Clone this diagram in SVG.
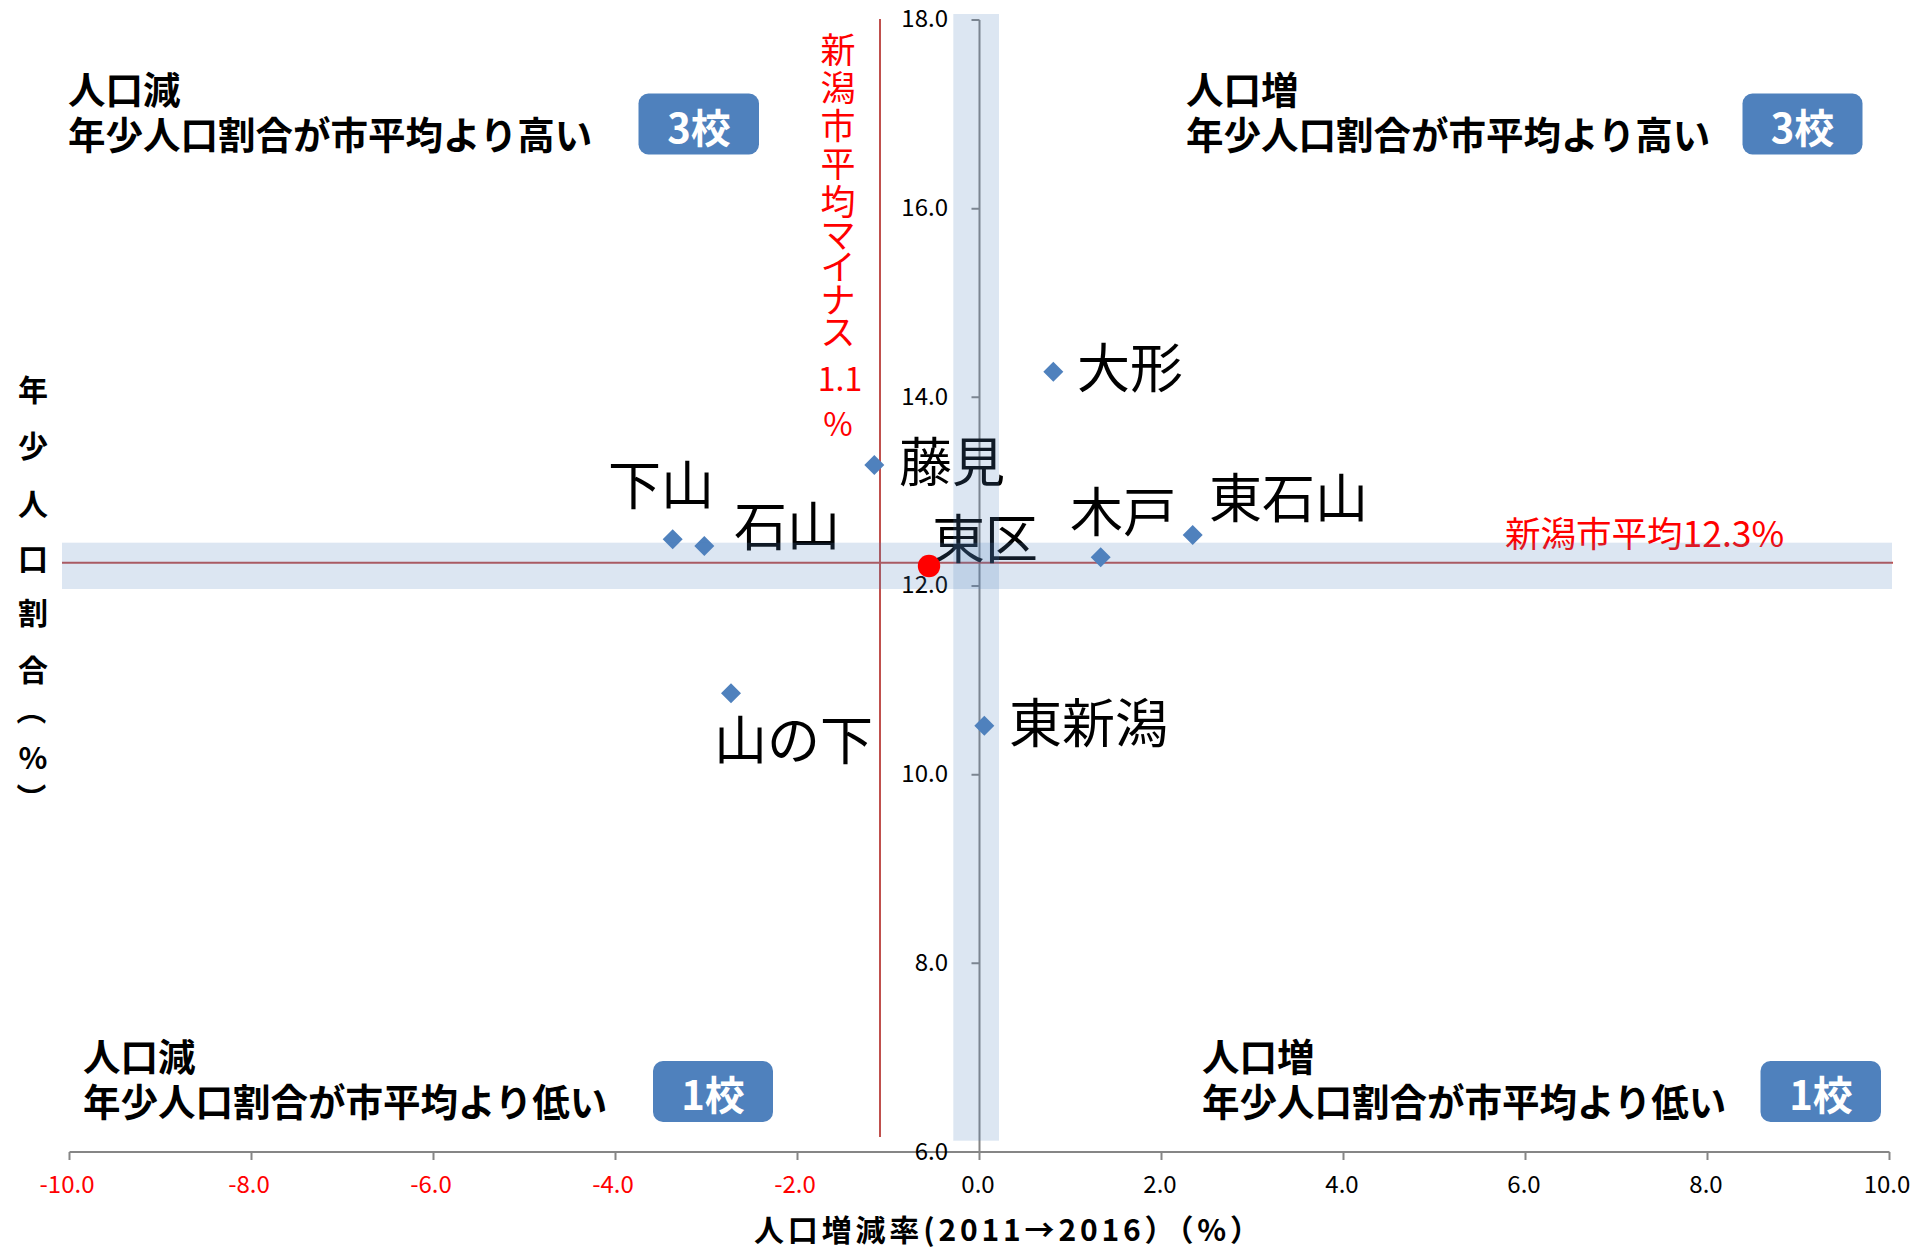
<svg xmlns="http://www.w3.org/2000/svg" width="1930" height="1249" viewBox="0 0 1930 1249">
<style>
.axis{stroke:#868686;stroke-width:2;fill:none}
.ref{stroke:#c0504d;stroke-width:2;fill:none}
.band{fill:#4f81bd;fill-opacity:0.2}
.tk{font-family:"Noto Sans CJK JP","Liberation Sans",sans-serif;font-size:24px;fill:#000}
.tkx{text-anchor:middle}
.tky{text-anchor:end}
.neg{fill:#ff0000}
.pt{fill:#4f81bd}
.lbl{font-family:"Noto Sans CJK JP",sans-serif;font-size:53px;fill:#000}
.q{font-family:"Noto Sans CJK JP",sans-serif;font-size:37.5px;font-weight:bold;fill:#000}
.badge{fill:#4f81bd}
.bt{font-family:"Noto Sans CJK JP",sans-serif;font-size:40px;font-weight:bold;fill:#fff;text-anchor:middle}
.red{font-family:"Noto Sans CJK JP",sans-serif;fill:#ff0000}
.title{font-family:"Noto Sans CJK JP",sans-serif;font-weight:bold;font-size:30px;fill:#000}
</style>
<defs>
<path id="dia" d="M0,-10 L10,0 L0,10 L-10,0Z"/>
</defs>
<rect width="1930" height="1249" fill="#fff"/>

<g id="connectors">
<line class="axis" x1="69.5" y1="1152" x2="1889.5" y2="1152"/>
<line class="axis" x1="979.5" y1="20" x2="979.5" y2="1160"/>
<path class="axis" d="M69.5,1152V1160M251.5,1152V1160M433.5,1152V1160M615.5,1152V1160M797.5,1152V1160M1161.5,1152V1160M1343.5,1152V1160M1525.5,1152V1160M1707.5,1152V1160M1889.5,1152V1160"/>
<path class="axis" d="M971.5,20H979.5M971.5,208.7H979.5M971.5,397.3H979.5M971.5,586H979.5M971.5,774.7H979.5M971.5,963.3H979.5M971.5,1152H979.5"/>
<line class="ref" x1="880" y1="19" x2="880" y2="1137"/>
<line class="ref" x1="62" y1="562.7" x2="1893" y2="562.7"/>
</g>

<g id="y-ticks" class="tk tky">
<text x="948" y="27">18.0</text>
<text x="948" y="216">16.0</text>
<text x="948" y="404.5">14.0</text>
<text x="948" y="593">12.0</text>
<text x="948" y="782">10.0</text>
<text x="948" y="970.5">8.0</text>
<text x="948" y="1160">6.0</text>
</g>

<g id="x-ticks" class="tk tkx">
<text class="neg" x="67" y="1193">-10.0</text>
<text class="neg" x="249" y="1193">-8.0</text>
<text class="neg" x="431" y="1193">-6.0</text>
<text class="neg" x="613" y="1193">-4.0</text>
<text class="neg" x="795" y="1193">-2.0</text>
<text x="978" y="1193">0.0</text>
<text x="1160" y="1193">2.0</text>
<text x="1342" y="1193">4.0</text>
<text x="1524" y="1193">6.0</text>
<text x="1706" y="1193">8.0</text>
<text x="1887" y="1193">10.0</text>
</g>

<g id="x-title">
<text class="title" x="754" y="1241" textLength="506" lengthAdjust="spacing">人口増減率(2011→2016）（%）</text>
</g>

<g id="y-title" class="title">
<text x="33" text-anchor="middle" dominant-baseline="central"><tspan x="33" y="388">年</tspan><tspan x="33" y="444">少</tspan><tspan x="33" y="502">人</tspan><tspan x="33" y="557">口</tspan><tspan x="33" y="611">割</tspan><tspan x="33" y="668">合</tspan></text>
<text transform="translate(33,710) rotate(90)" text-anchor="middle" dominant-baseline="central">（</text>
<text x="33" y="756" text-anchor="middle" dominant-baseline="central">%</text>
<text transform="translate(33,798) rotate(90)" text-anchor="middle" dominant-baseline="central">）</text>
</g>

<g id="avg-x-label" class="red">
<text font-size="35" text-anchor="middle" dominant-baseline="central"><tspan x="838" y="47">新</tspan><tspan x="838" y="85">潟</tspan><tspan x="838" y="123">市</tspan><tspan x="838" y="161">平</tspan><tspan x="838" y="199">均</tspan><tspan x="838" y="232">マ</tspan><tspan x="838" y="264">イ</tspan><tspan x="838" y="297">ナ</tspan><tspan x="838" y="329">ス</tspan></text>
<text font-size="32" text-anchor="middle" dominant-baseline="central"><tspan x="840" y="377">1.1</tspan><tspan x="838" y="422">%</tspan></text>
</g>

<g id="avg-y-label" class="red">
<text x="1505" y="547" font-size="35.5">新潟市平均12.3%</text>
</g>

<g id="q-tl">
<text class="q" x="68" y="104">人口減</text>
<text class="q" x="68" y="149">年少人口割合が市平均より高い</text>
<rect class="badge" x="638.5" y="93.5" width="120.5" height="61" rx="10"/>
<text class="bt" x="699" y="143">3校</text>
</g>
<g id="q-tr">
<text class="q" x="1186" y="104">人口増</text>
<text class="q" x="1186" y="149">年少人口割合が市平均より高い</text>
<rect class="badge" x="1742.5" y="93.5" width="120" height="61" rx="10"/>
<text class="bt" x="1802.5" y="143">3校</text>
</g>
<g id="q-bl">
<text class="q" x="83" y="1071">人口減</text>
<text class="q" x="83" y="1116">年少人口割合が市平均より低い</text>
<rect class="badge" x="653" y="1061" width="120" height="61" rx="10"/>
<text class="bt" x="713" y="1110">1校</text>
</g>
<g id="q-br">
<text class="q" x="1202" y="1071">人口増</text>
<text class="q" x="1202" y="1116">年少人口割合が市平均より低い</text>
<rect class="badge" x="1760.5" y="1061" width="120.5" height="61" rx="10"/>
<text class="bt" x="1821" y="1110">1校</text>
</g>

<g id="p-ogata"><use href="#dia" class="pt" x="1053.3" y="371.7"/><text class="lbl" x="1077" y="388">大形</text></g>
<g id="p-fujimi"><use href="#dia" class="pt" x="874.3" y="465"/><text class="lbl" x="899" y="482">藤見</text></g>
<g id="p-shimoyama"><use href="#dia" class="pt" x="672.7" y="539.3"/><text class="lbl" x="608" y="505">下山</text></g>
<g id="p-ishiyama"><use href="#dia" class="pt" x="704.3" y="546"/><text class="lbl" x="734" y="546">石山</text></g>
<g id="p-kido"><use href="#dia" class="pt" x="1100.7" y="557.3"/><text class="lbl" x="1070" y="532">木戸</text></g>
<g id="p-higashiishiyama"><use href="#dia" class="pt" x="1192.7" y="535"/><text class="lbl" x="1209" y="518">東石山</text></g>
<g id="p-yamanoshita"><use href="#dia" class="pt" x="731" y="693.3"/><text class="lbl" x="714" y="760">山の下</text></g>
<g id="p-higashiniigata"><use href="#dia" class="pt" x="984.3" y="725.7"/><text class="lbl" x="1009" y="743">東新潟</text></g>
<g id="p-higashiku"><text class="lbl" x="932" y="559">東区</text></g>

<g id="bands">
<rect class="band" x="62" y="542.7" width="1830" height="46.3"/>
<rect class="band" x="953.3" y="14" width="45.7" height="1126.7"/>
</g>
<g id="p-higashiku-dot"><circle cx="929" cy="566" r="11.2" fill="#ff0000"/></g>
</svg>
